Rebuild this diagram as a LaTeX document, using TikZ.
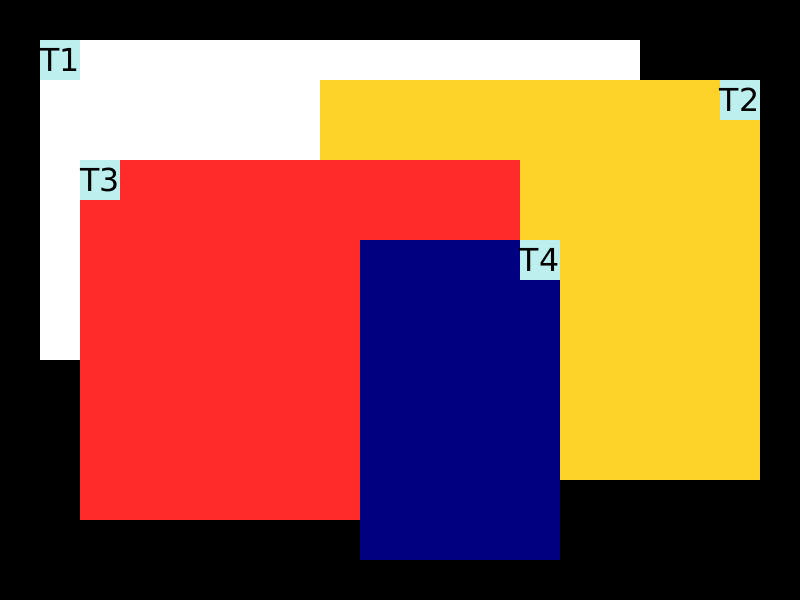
\documentclass[tikz,border=0pt]{standalone}
\usepackage{fontspec}
\setmainfont{DejaVu Sans}
\usepackage{xcolor}
\usetikzlibrary{positioning}
\definecolor{bgblack}{HTML}{000000}
\definecolor{winwhite}{HTML}{FFFFFF}
\definecolor{winyellow}{HTML}{FDD32A}
\definecolor{winred}{HTML}{FF2A2A}
\definecolor{winnavy}{HTML}{000080}
\definecolor{tagcyan}{HTML}{BDEFEF}
\tikzset{
  wintag/.style={
    fill=tagcyan, inner sep=0pt, minimum width=1cm, minimum height=1cm,
    text height=0.56cm, text depth=0pt, text=black,
    font=\fontsize{22.5}{22.5}\selectfont
  }
}

\begin{document}
\begin{tikzpicture}[x=0.025cm,y=-0.025cm]
  \fill[bgblack] (0,0) rectangle (800,600);
  \useasboundingbox (0,0) rectangle (800,600);

  % windows, back to front
  \fill[winwhite]  (40,40)   rectangle (640,360);
  \fill[winyellow] (320,80)  rectangle (760,480);
  \fill[winred]    (80,160)  rectangle (520,520);
  \fill[winnavy]   (360,240) rectangle (560,560);

  % title tags
  \node[wintag,anchor=north west] (t1) at (40,40)  {T1};
  \node[wintag,anchor=north east] (t2) at (760,80) {T2};
  \node[wintag,anchor=north west] (t3) at (80,160) {T3};
  \node[wintag,anchor=north east] (t4) at (560,240) {T4};
\end{tikzpicture}
\end{document}
